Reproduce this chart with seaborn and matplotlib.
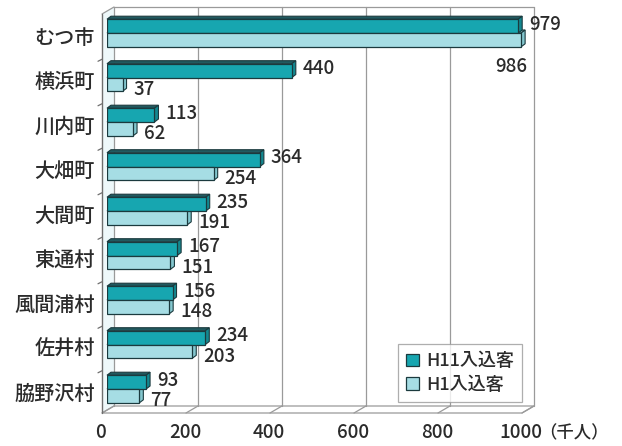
import numpy as np
import pandas as pd
import matplotlib
matplotlib.use("Agg")
import matplotlib.pyplot as plt
from matplotlib.patches import Polygon, Patch
import seaborn as sns

# visitor counts (thousand people) per municipality
towns = ["むつ市", "横浜町", "川内町", "大畑町", "大間町", "東通村", "風間浦村", "佐井村", "脇野沢村"]
visitors_h11 = [979, 440, 113, 364, 235, 167, 156, 234, 93]
visitors_h1 = [986, 37, 62, 254, 191, 151, 148, 203, 77]
series_names = ["H11入込客", "H1入込客"]
x_ticks = [0, 200, 400, 600, 800, 1000]
x_unit = "（千人）"

sns.set_theme(style="white")
plt.rcParams["font.family"] = ["Noto Sans CJK JP", "DejaVu Sans"]

DPI = 100
W, H = 622, 446
fig = plt.figure(figsize=(W / DPI, H / DPI), dpi=DPI)
fig.patch.set_facecolor("white")
ax = fig.add_axes([107 / W, 37 / H, 420 / W, 399 / H])

df = pd.DataFrame({
    "地域": towns * 2,
    "入込客数": visitors_h11 + visitors_h1,
    "区分": [series_names[0]] * len(towns) + [series_names[1]] * len(towns),
})
front_colors = {series_names[0]: "#17a6b0", series_names[1]: "#a6dde4"}
top_colors = {series_names[0]: "#215a60", series_names[1]: "#7fc0c8"}
side_colors = {series_names[0]: "#138890", series_names[1]: "#84c7cf"}
edge = "#1b3a3e"
text_color = "#2b2b2b"
wall = "#9a9a9a"

sns.barplot(data=df, y="地域", x="入込客数", hue="区分", order=towns,
            hue_order=series_names, palette=front_colors, saturation=1,
            orient="h", width=0.62, edgecolor=edge, linewidth=0.9,
            legend=False, ax=ax)

YTOP, YBOT = -0.517, 8.449
ax.set_xlim(0, 1000)
ax.set_ylim(YBOT, YTOP)
ax.set_axis_off()


def nudge(x, y, dx, dy):
    """Data point moved by (dx right, dy down) pixels, returned in data coords."""
    px, py = ax.transData.transform((x, y))
    return tuple(ax.transData.inverted().transform((px + dx, py - dy)))


BACK = (7, -3)
FRONT = (-5, 4)


def line(pts, **kw):
    xs, ys = zip(*pts)
    ax.plot(xs, ys, clip_on=False, **kw)


def poly(pts, **kw):
    ax.add_patch(Polygon(pts, closed=True, clip_on=False, **kw))


# left wall and floor
poly([nudge(0, YTOP, *BACK), nudge(0, YBOT, *BACK),
      nudge(0, YBOT, *FRONT), nudge(0, YTOP, *FRONT)],
     facecolor="#eef8fa", edgecolor="none", zorder=0.5)
poly([nudge(0, YBOT, *FRONT), nudge(1000, YBOT, *FRONT),
      nudge(1000, YBOT, *BACK), nudge(0, YBOT, *BACK)],
     facecolor="white", edgecolor=wall, linewidth=0.9, zorder=0.6)

# back wall frame and gridlines
line([nudge(0, YTOP, *BACK), nudge(1000, YTOP, *BACK)], color=wall, lw=0.9, zorder=0.7)
for t in x_ticks:
    line([nudge(t, YTOP, *BACK), nudge(t, YBOT, *BACK)], color=wall, lw=0.9, zorder=0.7)
    line([nudge(t, YBOT, *FRONT), nudge(t, YBOT, *BACK)], color=wall, lw=0.9, zorder=0.7)
line([nudge(0, YTOP, *FRONT), nudge(0, YTOP, *BACK)], color=wall, lw=0.9, zorder=0.7)

# front left edge with category separators
line([nudge(0, YTOP, *FRONT), nudge(0, YBOT, *FRONT)], color="#6f6f6f", lw=1.0, zorder=0.8)
for i in range(len(towns) - 1):
    line([nudge(0, i + 0.5, *FRONT), nudge(0, i + 0.5, FRONT[0] - 4, FRONT[1] + 2)],
         color="#6f6f6f", lw=0.9, zorder=0.8)

# extruded faces of each bar
depth = (4, -3)
for name, container, values in zip(series_names, ax.containers,
                                   [visitors_h11, visitors_h1]):
    for bar, val in zip(container, values):
        bar.set_zorder(3)
        y0 = bar.get_y()
        y1 = y0 + bar.get_height()
        top = min(y0, y1)
        bot = max(y0, y1)
        poly([nudge(0, top, 0, 0), nudge(val, top, 0, 0),
              nudge(val, top, *depth), nudge(0, top, *depth)],
             facecolor=top_colors[name], edgecolor=edge, linewidth=0.8, zorder=2)
        poly([nudge(val, top, 0, 0), nudge(val, bot, 0, 0),
              nudge(val, bot, *depth), nudge(val, top, *depth)],
             facecolor=side_colors[name], edgecolor=edge, linewidth=0.8, zorder=2.5)

        yc = (top + bot) / 2
        if name == series_names[1] and val > 900:
            tx, ty = nudge(val, yc, 6, 27)
            ha = "right"
        else:
            tx, ty = nudge(val, yc, 11, -2 if name == series_names[0] else 5)
            ha = "left"
        ax.text(tx, ty, f"{val}", ha=ha, va="center", fontsize=13.5,
                fontweight="medium", color=text_color, zorder=5)

# category labels
for i, town in enumerate(towns):
    tx, ty = nudge(0, i, -12, 5)
    ax.text(tx, ty, town, ha="right", va="center", fontsize=14.5,
            fontweight="medium", color=text_color)

# value axis labels
for t in x_ticks:
    tx, ty = nudge(t, YBOT, -6, 24)
    ax.text(tx, ty, f"{t}", ha="center", va="center", fontsize=13.5,
            fontweight="medium", color=text_color)
tx, ty = nudge(1000, YBOT, 12, 24)
ax.text(tx, ty, x_unit, ha="left", va="center", fontsize=12.5,
        fontweight="medium", color=text_color)

handles = [Patch(facecolor=front_colors[n], edgecolor=edge, linewidth=0.9) for n in series_names]
leg = ax.legend(handles, series_names, loc="lower right",
                bbox_to_anchor=(522 / W, 1 - 402 / H), bbox_transform=fig.transFigure,
                prop={"size": 13, "weight": "medium"}, frameon=True, fancybox=False,
                handlelength=0.7, handleheight=0.7, handletextpad=0.4,
                labelspacing=0.3, borderpad=0.45, borderaxespad=0)
leg.get_frame().set_edgecolor("#9a9a9a")
leg.get_frame().set_linewidth(0.9)
leg.set_zorder(6)
for txt in leg.get_texts():
    txt.set_color(text_color)

fig.savefig("out.png", dpi=DPI, facecolor="white")
